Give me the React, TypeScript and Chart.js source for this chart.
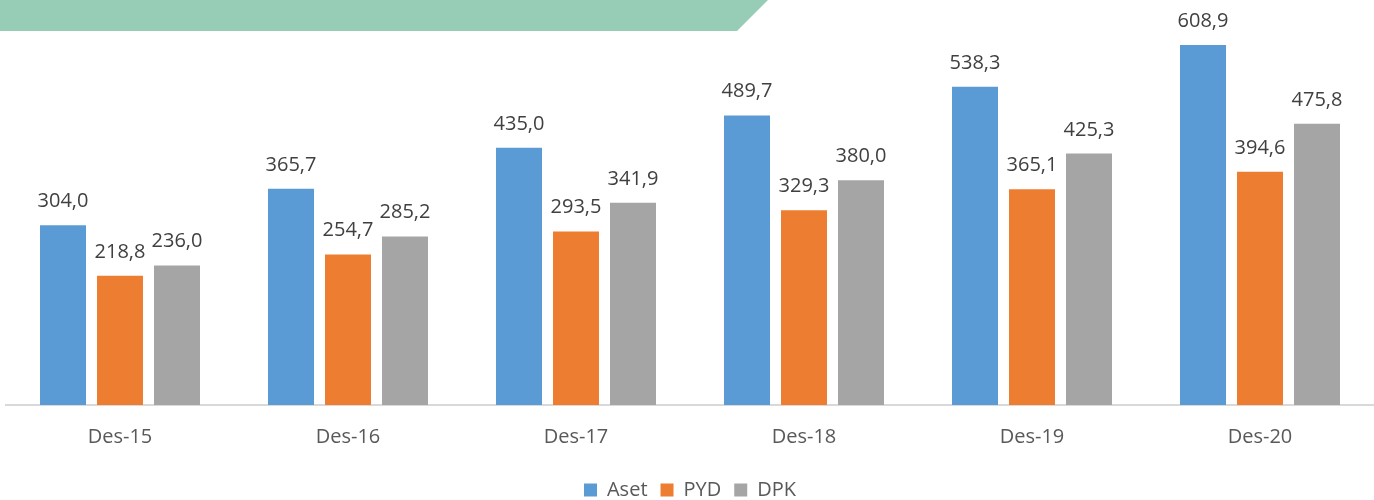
import React, { useEffect, useRef } from "react";
import { Chart, registerables } from "chart.js";

Chart.register(...registerables);

const categories = ["Des-15", "Des-16", "Des-17", "Des-18", "Des-19", "Des-20"];
const aset = [304.0, 365.7, 435.0, 489.7, 538.3, 608.9];
const pyd = [218.8, 254.7, 293.5, 329.3, 365.1, 394.6];
const dpk = [236.0, 285.2, 341.9, 380.0, 425.3, 475.8];
const seriesNames = ["Aset", "PYD", "DPK"];
const seriesColors = ["#5B9BD5", "#ED7D31", "#A5A5A5"];

const FONT = "'Open Sans', 'Noto Sans', sans-serif";
const FS = 20;

const fmt = (v: number) => v.toFixed(1).replace(".", ",");

const labelPlugin = {
  id: "barLabels",
  afterDatasetsDraw(chart: any) {
    const ctx = chart.ctx;
    ctx.save();
    ctx.font = `${FS}px ${FONT}`;
    ctx.fillStyle = "#404040";
    ctx.textAlign = "center";
    ctx.textBaseline = "alphabetic";
    chart.data.datasets.forEach((ds: any, i: number) => {
      const meta = chart.getDatasetMeta(i);
      meta.data.forEach((el: any, j: number) => {
        ctx.fillText(fmt(ds.data[j]), el.x, el.y - 18);
      });
    });
    ctx.restore();
  },
};

export default function App() {
  const ref = useRef<HTMLCanvasElement>(null);
  useEffect(() => {
    if (!ref.current) return;
    const chart = new Chart(ref.current, {
      type: "bar",
      data: {
        labels: categories,
        datasets: [aset, pyd, dpk].map((d, i) => ({
          label: seriesNames[i],
          data: d,
          backgroundColor: seriesColors[i],
          borderWidth: 0,
          categoryPercentage: 0.75,
          barPercentage: 0.807,
        })),
      },
      options: {
        animation: false,
        responsive: false,
        maintainAspectRatio: false,
        layout: { padding: { left: 6, right: 0, top: 0, bottom: 0 } },
        scales: {
          x: {
            grid: { display: false, drawTicks: false },
            border: { display: true, color: "#D9D9D9", width: 2 },
            ticks: { color: "#595959", font: { family: FONT, size: FS }, padding: 20 },
            afterFit: (scale: any) => {
              scale.height = 62;
            },
          },
          y: { display: false, min: 0, max: 685 },
        },
        plugins: {
          legend: {
            position: "bottom",
            labels: {
              boxWidth: 13,
              boxHeight: 13,
              color: "#595959",
              font: { family: FONT, size: FS },
              padding: 13,
            },
          },
          tooltip: { enabled: false },
        },
      },
      plugins: [labelPlugin],
    });
    return () => chart.destroy();
  }, []);
  return (
    <div style={{ position: "fixed", left: 0, top: 0, width: 1374, height: 500, background: "#fff", overflow: "hidden" }}>
      <div
        style={{
          position: "absolute",
          left: 0,
          top: 0,
          width: 768,
          height: 31,
          background: "#97CDB7",
          clipPath: "polygon(0 0, 768px 0, 737px 31px, 0 31px)",
        }}
      />
      <canvas ref={ref} width={1374} height={510} style={{ position: "absolute", left: 0, top: 0 }} />
    </div>
  );
}
